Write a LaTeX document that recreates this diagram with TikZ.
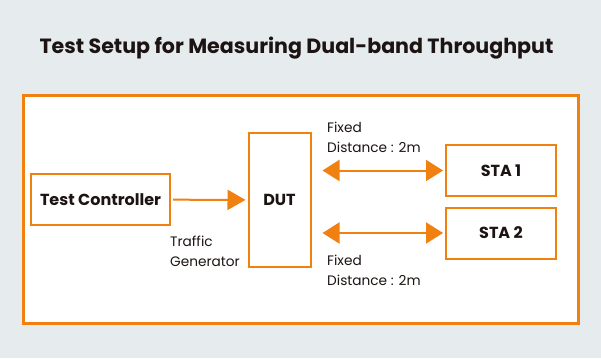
\documentclass[tikz,border=0pt]{standalone}
\usepackage{fontspec}
\setmainfont{Poppins}
\usetikzlibrary{arrows.meta, positioning}

\definecolor{setuporange}{HTML}{F08010}
\definecolor{setupbg}{HTML}{E6EBEE}
\definecolor{setupink}{HTML}{1C1412}

\tikzset{
    unitbox/.style={draw=setuporange, line width=2pt, fill=white, text=setupink,
        font=\fontsize{16}{18}\selectfont\bfseries, inner sep=0pt},
    feed/.style={draw=setuporange, line width=2pt, -{Triangle[length=18pt, width=20pt]}},
    link/.style={draw=setuporange, line width=2pt,
        {Triangle[length=17pt, width=21pt]}-{Triangle[length=17pt, width=21pt]}},
    note/.style={text=setupink, font=\fontsize{13.7}{20}\selectfont, align=left,
        inner sep=0pt, anchor=base west},
}

\begin{document}
\begin{tikzpicture}[x=1pt, y=-1pt]
    % background and frame
    \fill[setupbg] (0,0) rectangle (601,358);
    \useasboundingbox (0,0) rectangle (601,358);
    \draw[setuporange, line width=3pt, fill=white] (23,96) rectangle (578,323);

    \node[text=setupink, font=\fontsize{20.6}{24}\selectfont\bfseries] (title) at (296.5,48)
        {Test Setup for Measuring Dual-band Throughput};

    % units
    \node[unitbox, minimum width=139pt, minimum height=51pt] (ctrl) at (100.5,199.5) {Test Controller};
    \node[unitbox, minimum width=62pt, minimum height=134pt] (dut) at (279.5,200) {DUT};
    \node[unitbox, minimum width=110pt, minimum height=51pt] (sta1) at (501,170.5) {STA 1};
    \node[unitbox, minimum width=110pt, minimum height=51pt] (sta2) at (501,233) {STA 2};

    % connectors
    \draw[feed, shorten <=2pt, shorten >=2pt] (ctrl) -- (dut);
    \draw[link, shorten <=11pt, shorten >=2pt] (dut.east |- sta1) -- (sta1.west);
    \draw[link, shorten <=11pt, shorten >=2pt] (dut.east |- sta2) -- (sta2.west);

    % labels (base is the last line)
    \node[note] (traffic) at (170,266) {Traffic\\Generator};
    \node[note] (dist1) at (327,153) {Fixed\\Distance : 2m};
    \node[note] (dist2) at (327,285) {Fixed\\Distance : 2m};
\end{tikzpicture}
\end{document}
